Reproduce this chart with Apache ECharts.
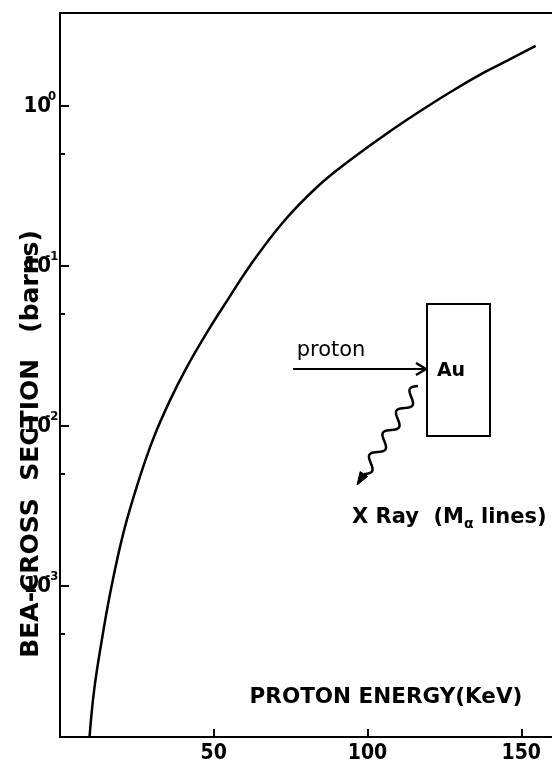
<!DOCTYPE html>
<html>
<head>
<meta charset="utf-8">
<script src="https://cdn.jsdelivr.net/npm/echarts@6/dist/echarts.min.js"></script>
<style>
  html, body { margin: 0; padding: 0; background: #fff; }
  #chart { width: 552px; height: 773px; }
</style>
</head>
<body>
<div id="chart"></div>
<script>
// proton energy (keV) -> BEA cross section (barns)
const energy = [9.6, 11.1, 13.6, 16.5, 20.6, 25.5, 30.4, 35.8, 41.3, 48.3, 54.3, 61.9, 72.6, 83.7, 94.5, 105.2, 116.3, 127.0, 137.8, 145.6, 154.7];
const crossSection = [1.14e-4, 2.24e-4, 4.6e-4, 9.4e-4, 2.14e-3, 4.5e-3, 8.4e-3, 1.45e-2, 2.34e-2, 3.98e-2, 6.04e-2, 0.101, 0.188, 0.312, 0.46, 0.649, 0.904, 1.22, 1.61, 1.92, 2.37];

const xTicks = [50, 100, 150];
const yMinorTicks = [5e-4, 5e-3, 5e-2, 0.5];

const xMin = 0, xMax = 160;
const yMin = 1.14e-4, yMax = 3.8;

const numFont = "'DejaVu Sans Condensed', 'DejaVu Sans', sans-serif";
const txtFont = "'DejaVu Sans', 'Liberation Sans', sans-serif";

let chart = echarts.init(document.getElementById('chart'), null, { renderer: 'canvas' });

// wavy x-ray arrow for the inset sketch
function wavePoints(sx, sy, ex, ey, periods, amp) {
    let pts = [];
    let dx = ex - sx, dy = ey - sy;
    let len = Math.sqrt(dx * dx + dy * dy);
    let nx = -dy / len, ny = dx / len;
    let n = 80;
    for (let i = 0; i <= n; i++) {
        let t = i / n;
        let w = amp * Math.sin(2 * Math.PI * periods * t);
        pts.push([sx + dx * t + nx * w, sy + dy * t + ny * w]);
    }
    return pts;
}
function arrowHead(tx, ty, fx, fy, size, half) {
    let dx = tx - fx, dy = ty - fy;
    let len = Math.sqrt(dx * dx + dy * dy);
    let ux = dx / len, uy = dy / len;
    let bx = tx - ux * size, by = ty - uy * size;
    return [[tx, ty], [bx - uy * half, by + ux * half], [bx + uy * half, by - ux * half]];
}

let option = {
    backgroundColor: '#fff',
    animation: false,
    grid: { left: 60, right: 0, top: 13, bottom: 36, containLabel: false },
    xAxis: [{
        type: 'value',
        min: xMin,
        max: xMax,
        position: 'bottom',
        axisLine: { lineStyle: { color: '#000', width: 2 } },
        axisTick: { inside: true, length: 8, customValues: xTicks, lineStyle: { color: '#000', width: 2 } },
        axisLabel: {
            customValues: xTicks,
            color: '#000',
            fontFamily: numFont,
            fontWeight: 'bold',
            fontSize: 21,
            margin: 6
        },
        splitLine: { show: false }
    }, {
        type: 'value',
        min: xMin,
        max: xMax,
        position: 'top',
        axisLine: { lineStyle: { color: '#000', width: 2 } },
        axisTick: { show: false },
        axisLabel: { show: false },
        splitLine: { show: false }
    }],
    yAxis: [{
        type: 'log',
        logBase: 10,
        min: yMin,
        max: yMax,
        axisLine: { show: true, lineStyle: { color: '#000', width: 2 } },
        axisTick: { inside: true, length: 9, lineStyle: { color: '#000', width: 2 } },
        axisLabel: {
            showMinLabel: false,
            showMaxLabel: false,
            margin: 7,
            color: '#000',
            formatter: function (v) {
                let e = Math.round(Math.log10(v));
                return '{b|10}{s|' + (e === 0 ? '0' : '-' + (-e)) + '}';
            },
            rich: {
                b: { fontFamily: numFont, fontWeight: 'bold', fontSize: 22, lineHeight: 32, color: '#000' },
                s: { fontFamily: numFont, fontWeight: 'bold', fontSize: 13, lineHeight: 13, width: 2, align: 'left', verticalAlign: 'top', color: '#000' }
            }
        },
        splitLine: { show: false }
    }, {
        type: 'log',
        logBase: 10,
        min: yMin,
        max: yMax,
        position: 'left',
        axisLine: { show: false },
        axisTick: { inside: true, length: 5, customValues: yMinorTicks, lineStyle: { color: '#000', width: 2 } },
        axisLabel: { show: false },
        splitLine: { show: false }
    }],
    series: [{
        type: 'line',
        xAxisIndex: 0,
        yAxisIndex: 0,
        data: energy.map((x, i) => [x, crossSection[i]]),
        smooth: 0.4,
        showSymbol: false,
        symbol: 'none',
        lineStyle: { color: '#000', width: 2.5 }
    }],
    graphic: [
        {
            type: 'text', x: 31, y: 444, rotation: Math.PI / 2,
            style: {
                text: 'BEA-CROSS  SECTION   (barns)',
                fill: '#000',
                font: 'bold 25px ' + txtFont,
                textAlign: 'center',
                textVerticalAlign: 'middle'
            }
        },
        {
            type: 'text', x: 386, y: 697,
            style: {
                text: 'PROTON ENERGY(KeV)',
                fill: '#000',
                font: 'bold 21.5px ' + txtFont,
                textAlign: 'center',
                textVerticalAlign: 'middle'
            }
        },
        // inset: proton hitting Au target
        {
            type: 'rect',
            shape: { x: 427, y: 304, width: 63, height: 132 },
            style: { fill: 'none', stroke: '#000', lineWidth: 2 }
        },
        {
            type: 'text', x: 451, y: 371,
            style: { text: 'Au', fill: '#000', font: 'bold 19px ' + txtFont, textAlign: 'center', textVerticalAlign: 'middle' }
        },
        {
            type: 'text', x: 331, y: 351,
            style: { text: 'proton', fill: '#000', font: '21px ' + txtFont, textAlign: 'center', textVerticalAlign: 'middle' }
        },
        {
            type: 'line',
            shape: { x1: 293, y1: 369, x2: 425, y2: 369 },
            style: { stroke: '#000', lineWidth: 2 }
        },
        {
            type: 'polyline',
            shape: { points: [[416, 363], [426, 369], [416, 375]] },
            style: { fill: 'none', stroke: '#000', lineWidth: 2.5 }
        },
        {
            type: 'polyline',
            shape: { points: wavePoints(418, 386, 364, 474, 4, 5.5) },
            style: { fill: 'none', stroke: '#000', lineWidth: 2.5 }
        },
        {
            type: 'polygon',
            shape: { points: arrowHead(357, 485, 364, 474, 13, 4.5) },
            style: { fill: '#000', stroke: '#000', lineWidth: 1 }
        },
        {
            type: 'text', x: 352, y: 518,
            style: {
                text: '{n|X Ray  (M}{sub|α}{n| lines)}',
                textAlign: 'left',
                textVerticalAlign: 'middle',
                rich: {
                    n: { fill: '#000', font: 'bold 21px ' + txtFont, lineHeight: 26 },
                    sub: { fill: '#000', font: 'bold 14px ' + txtFont, lineHeight: 12, verticalAlign: 'bottom' }
                }
            }
        }
    ]
};

chart.setOption(option);
</script>
</body>
</html>
